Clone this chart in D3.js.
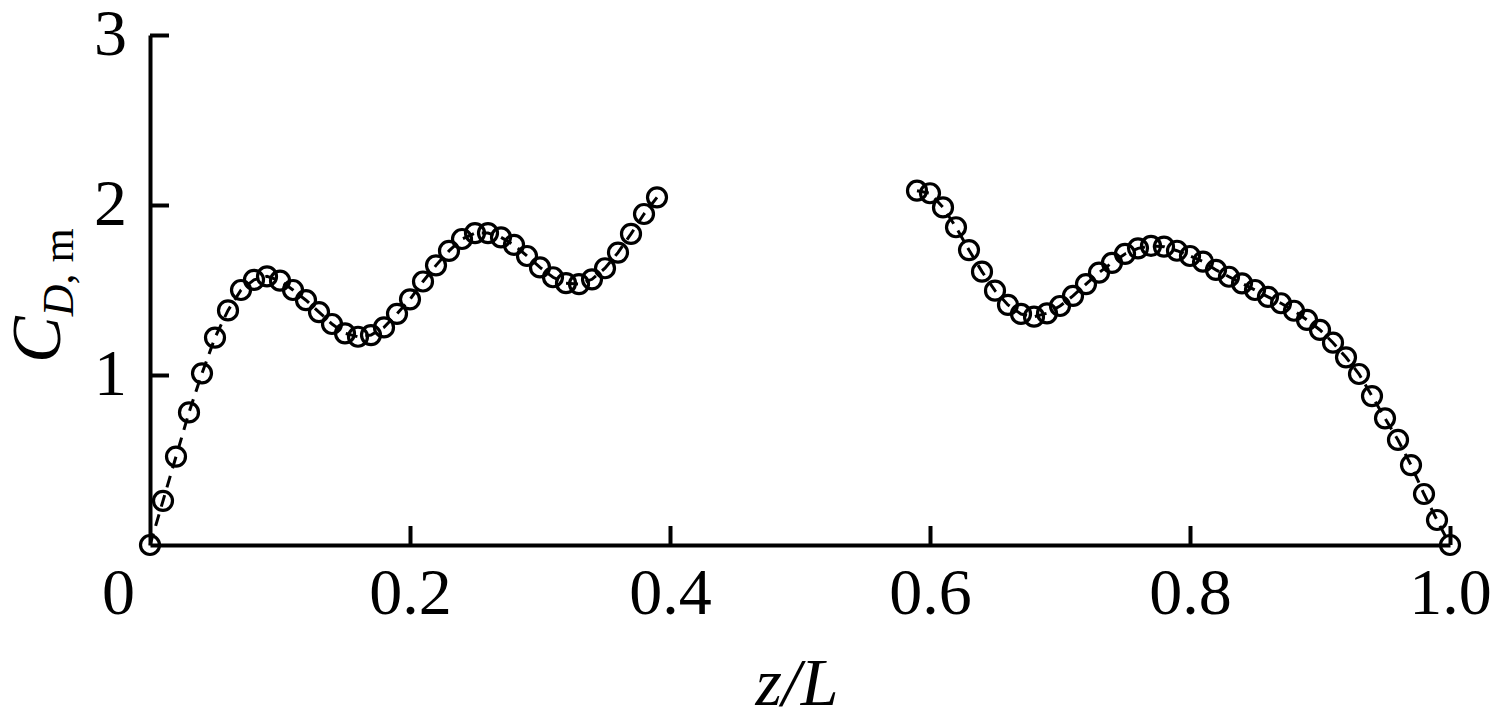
<!DOCTYPE html>
<html lang="en">
<head>
  <meta charset="UTF-8">
  <title>C_D,m along z/L</title>
  <script src="https://d3js.org/d3.v7.min.js"></script>
  <style>
    body {
      margin: 0;
      background: #fff;
    }
    svg text {
      font-family: "Liberation Serif", "Times New Roman", serif;
      fill: #000;
    }
    .axis path, .axis line {
      stroke: #000;
      stroke-width: 4;
    }
    .axis text {
      font-size: 66px;
    }
  </style>
</head>
<body>
  <svg width="1493" height="727"></svg>

  <script>
    // left part of the span
    const zLeft = [0.00, 0.01, 0.02, 0.03, 0.04, 0.05, 0.06, 0.07, 0.08, 0.09,
                   0.10, 0.11, 0.12, 0.13, 0.14, 0.15, 0.16, 0.17, 0.18, 0.19,
                   0.20, 0.21, 0.22, 0.23, 0.24, 0.25, 0.26, 0.27, 0.28, 0.29,
                   0.30, 0.31, 0.32, 0.33, 0.34, 0.35, 0.36, 0.37, 0.38, 0.39];
    const cdLeft = [0.00, 0.26, 0.52, 0.78, 1.01, 1.22, 1.38, 1.50, 1.56, 1.58,
                    1.555, 1.50, 1.44, 1.37, 1.30, 1.245, 1.225, 1.235, 1.28, 1.36,
                    1.445, 1.55, 1.645, 1.73, 1.80, 1.835, 1.835, 1.81, 1.765, 1.70,
                    1.633, 1.575, 1.54, 1.535, 1.563, 1.628, 1.72, 1.83, 1.947, 2.045];

    // right part of the span
    const zRight = [0.59, 0.60, 0.61, 0.62, 0.63, 0.64, 0.65, 0.66, 0.67, 0.68,
                    0.69, 0.70, 0.71, 0.72, 0.73, 0.74, 0.75, 0.76, 0.77, 0.78,
                    0.79, 0.80, 0.81, 0.82, 0.83, 0.84, 0.85, 0.86, 0.87, 0.88,
                    0.89, 0.90, 0.91, 0.92, 0.93, 0.94, 0.95, 0.96, 0.97, 0.98,
                    0.99, 1.00];
    const cdRight = [2.084, 2.069, 1.986, 1.869, 1.735, 1.608, 1.496, 1.412, 1.359, 1.343,
                     1.363, 1.406, 1.465, 1.535, 1.602, 1.66, 1.712, 1.745, 1.759, 1.755,
                     1.731, 1.70, 1.667, 1.618, 1.578, 1.539, 1.50, 1.46, 1.422, 1.378,
                     1.324, 1.265, 1.19, 1.104, 1.006, 0.876, 0.745, 0.618, 0.47, 0.30,
                     0.147, 0.00];

    const xTicks = [0, 0.2, 0.4, 0.6, 0.8, 1.0];
    const xTickLabels = ["0", "0.2", "0.4", "0.6", "0.8", "1.0"];
    const yTicks = [1, 2, 3];

    const svg = d3.select("svg");

    const x = d3.scaleLinear().domain([0, 1]).range([150, 1450]);
    const y = d3.scaleLinear().domain([0, 3]).range([545, 35]);

    // x axis, ticks pointing up into the plot
    const gX = svg.append("g")
      .attr("class", "axis")
      .attr("transform", `translate(0,${y(0)})`)
      .call(d3.axisBottom(x)
        .tickValues(xTicks)
        .tickFormat((d, i) => xTickLabels[i])
        .tickSizeInner(-19)
        .tickSizeOuter(0)
        .tickPadding(22));
    gX.selectAll(".tick text").attr("dx", d => d === 0 ? -32 : 0);
    gX.selectAll(".tick line").filter(d => d === 0).remove();

    // y axis, ticks pointing right
    const gY = svg.append("g")
      .attr("class", "axis")
      .attr("transform", `translate(${x(0)},0)`)
      .call(d3.axisLeft(y)
        .tickValues(yTicks)
        .tickFormat(d3.format("d"))
        .tickSizeInner(-19)
        .tickSizeOuter(0)
        .tickPadding(23));
    gY.selectAll(".tick text").attr("dy", "0.3em");

    const line = d3.line()
      .x(d => x(d[0]))
      .y(d => y(d[1]));

    const series = [d3.zip(zLeft, cdLeft), d3.zip(zRight, cdRight)];

    series.forEach(pts => {
      svg.append("path")
        .datum(pts)
        .attr("fill", "none")
        .attr("stroke", "#000")
        .attr("stroke-width", 3)
        .attr("stroke-dasharray", "12,8")
        .attr("d", line);

      svg.append("g")
        .selectAll("circle")
        .data(pts)
        .enter().append("circle")
        .attr("cx", d => x(d[0]))
        .attr("cy", d => y(d[1]))
        .attr("r", 9.5)
        .attr("fill", "none")
        .attr("stroke", "#000")
        .attr("stroke-width", 3.2);
    });

    // axis titles
    svg.append("text")
      .attr("x", 797)
      .attr("y", 705)
      .attr("text-anchor", "middle")
      .style("font-size", "68px")
      .style("font-style", "italic")
      .text("z/L");

    const yTitle = svg.append("text")
      .attr("transform", "translate(60,363) rotate(-90)")
      .attr("text-anchor", "start");
    yTitle.append("tspan")
      .style("font-size", "70px")
      .style("font-style", "italic")
      .text("C");
    yTitle.append("tspan")
      .attr("dy", 13)
      .style("font-size", "44px")
      .style("font-style", "italic")
      .text("D");
    yTitle.append("tspan")
      .style("font-size", "44px")
      .text(", m");
  </script>
</body>
</html>
